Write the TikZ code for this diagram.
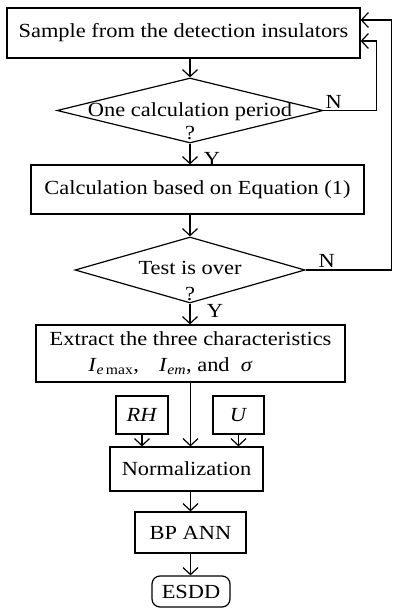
\documentclass[tikz,border=0pt]{standalone}
\usepackage{fontspec}
\setmainfont{Liberation Serif}[FakeStretch=1.12]
\usetikzlibrary{shapes.geometric,arrows.meta}

\begin{document}
\begin{tikzpicture}[x=1pt,y=-1pt,font=\fontsize{20}{24}\selectfont,line width=1.2pt,
  >={Straight Barb[length=7pt,width=15pt]},
  boite/.style={draw,rectangle,inner sep=0pt},
  test/.style={draw,diamond,inner sep=0pt},
  lbl/.style={inner sep=0pt}]
\useasboundingbox (0,0) rectangle (394,608);
%boites
\node[boite,minimum width=353,minimum height=50] (sample) at (183.5,33) {Sample from the detection insulators};
\node[test,minimum width=266,minimum height=65] (d1) at (190,110.5) {};
\node[align=center] (q1) at (190,121) {One calculation period\\[-1pt]?};
\node[boite,minimum width=333,minimum height=49] (calc) at (197.5,189.5) {Calculation based on Equation (1)};
\node[test,minimum width=230,minimum height=66] (d2) at (190,270) {};
\node[align=center] (q2) at (190,281) {Test is over\\[2pt]?};
\node[boite,minimum width=309,minimum height=57,align=center] (extract) at (190.5,353.5) {Extract the three characteristics\\[2pt]\textit{I}\textsubscript{\textit{e}\,max},\quad\textit{I}\textsubscript{\textit{em}}, and\ \ \textit{σ}\makebox[40pt]{}};
\node[boite,minimum width=52,minimum height=38] (rh) at (142,415) {\textit{RH}};
\node[boite,minimum width=51,minimum height=38] (u) at (238.5,415) {\textit{U}};
\node[boite,minimum width=153,minimum height=44] (norm) at (186.5,469) {Normalization};
\node[boite,minimum width=111,minimum height=41] (bp) at (190.5,532.5) {BP ANN};
\node[boite,rounded corners=8pt,minimum width=78,minimum height=31] (esdd) at (191,591.5) {ESDD};

%fleches
\draw[->] (sample.south -| d1.north) -- (d1.north);
\draw[->] (d1.south) -- (d1.south |- calc.north);
\draw[->] (calc.south -| d2.north) -- (d2.north);
\draw[->] (d2.south) -- (d2.south |- extract.north);
\draw[->] (extract.south) -- (extract.south |- norm.north);
\draw[->] (rh.south) -- (rh.south |- norm.north);
\draw[->] (u.south) -- (u.south |- norm.north);
\draw[->] (norm.south -| bp.north) -- (bp.north);
\draw[->] (bp.south) -- (bp.south |- esdd.north);

%retours
\coordinate (in1) at ([yshift=-8pt]sample.east);
\coordinate (in2) at ([yshift=13pt]sample.east);
\draw[->] (d1.east) -- ++(53,0) |- (in1);
\draw[->] (d2.east) -- ++(86,0) |- (in2);
\node[lbl] (n1) at ([xshift=10pt,yshift=9pt]d1.east) {N};
\node[lbl] (n2) at ([xshift=21pt,yshift=9pt]d2.east) {N};
\node[lbl] (y1) at ([xshift=22pt,yshift=-15pt]d1.south) {Y};
\node[lbl] (y2) at ([xshift=25pt,yshift=-7pt]d2.south) {Y};
\end{tikzpicture}
\end{document}
